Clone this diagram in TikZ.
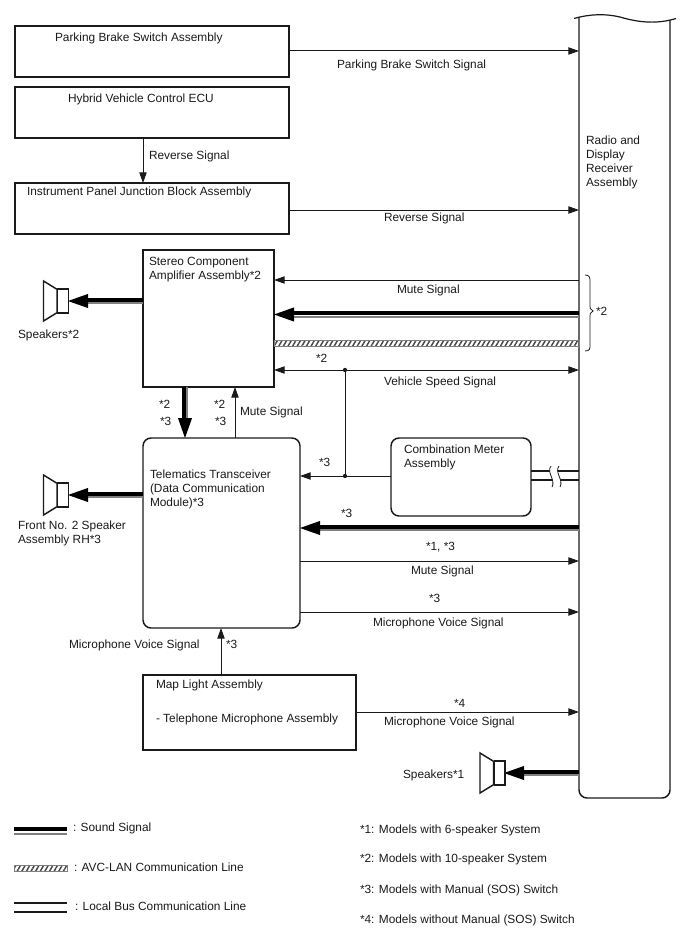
\documentclass[tikz,border=0pt]{standalone}
\usepackage{fontspec}
\setmainfont{Liberation Sans}
\usetikzlibrary{arrows.meta,calc,patterns.meta,decorations.pathreplacing}
\definecolor{ink}{HTML}{1A1A1A}
\definecolor{soundgray}{HTML}{808080}
\tikzset{
  x=0.75pt,y=0.75pt,
  box/.style={draw=ink,line width=1.1pt,rectangle,inner sep=0pt,outer sep=0pt,anchor=center},
  rbox/.style={box,rounded corners=6pt},
  lbl/.style={anchor=west,inner sep=0pt,outer sep=0pt,yshift=-1.1pt,font=\fontsize{8.9pt}{10.5pt}\selectfont,text=ink,align=left},
  sig/.style={draw=ink,line width=0.75pt,-{Triangle[length=8pt,width=5.5pt]}},
  sigb/.style={draw=ink,line width=0.75pt,{Triangle[length=8pt,width=5.5pt]}-{Triangle[length=8pt,width=5.5pt]}},
  blackline/.style={draw=black,line width=3pt},
  grayline/.style={draw=soundgray,line width=1.5pt},
  bus/.style={draw=ink,line width=1.8pt},
  hatch/.style={draw=soundgray,line width=0.6pt,pattern={Lines[angle=60,distance=3pt,line width=1.1pt]},pattern color=ink!80},
  spk/.style={draw=ink,line width=1.1pt,fill=white,line join=miter},
  dotn/.style={circle,fill=ink,inner sep=0pt,minimum size=3.2pt},
}
% from, to, black shift, gray shift
\newcommand{\soundlink}[4]{%
  \draw[grayline,shift={(#4)}] ($(#1)$) -- ($(#2)!15pt!(#1)$);
  \draw[blackline,shift={(#3)}] ($(#1)$) -- ($(#2)!12pt!(#1)$);
  \fill[black] (#2) -- ($(#2)!15pt!(#1)!5.3pt!90:(#2)$) -- ($(#2)!15pt!(#1)!5.3pt!-90:(#2)$) -- cycle;
}
% speaker centred at y, left x
\newcommand{\speaker}[3]{%
  \draw[spk] (#2,#3) ++(0,20) -- ++(13.5,-8.3) -- ++(0,-23.4) -- ++(-13.5,-8.3) -- cycle;
  \node[draw=ink,line width=1.1pt,fill=white,rectangle,inner sep=0pt,minimum width=8pt,minimum height=18pt,anchor=west] (#1) at ($(#2,#3)+(13.5,0)$) {};
}
\begin{document}
\begin{tikzpicture}
\useasboundingbox (0,0) rectangle (688,-949);
% boxes
\node[box,minimum width=205.5pt,minimum height=38.25pt] (brake) at (152,-51.5) {};
\node[box,minimum width=205.5pt,minimum height=38.25pt] (hybrid) at (152,-112.5) {};
\node[box,minimum width=205.5pt,minimum height=38.25pt] (junction) at (152,-208.5) {};
\node[box,minimum width=98.25pt,minimum height=102.75pt] (stereo) at (208.5,-318.5) {};
\node[rbox,minimum width=117.75pt,minimum height=142.5pt] (tele) at (221.5,-533) {};
\node[rbox,minimum width=105pt,minimum height=58.5pt] (combo) at (461,-477) {};
\node[box,minimum width=159.75pt,minimum height=56.25pt] (map) at (249.5,-712.5) {};
% radio receiver
\node[rectangle,inner sep=0pt,outer sep=0pt,minimum width=68.25pt,minimum height=585pt] (radio) at (624.5,-408) {};
\draw[ink,line width=1.1pt,rounded corners=6pt] (579,-17) -- (579,-798) -- (670,-798) -- (670,-20);
\draw[ink,line width=0.9pt] (574,-18.5) .. controls (590,-14) and (605,-13.5) .. (620,-17) .. controls (640,-23) and (658,-24) .. (676,-18.5);
% thin signals
\draw[sig] (brake.east |- 0,-51) -- (radio.west |- 0,-51);
\draw[sig] (hybrid.south) ++(-9,0) -- ($(junction.north)+(-9,0)$);
\draw[sig] (junction.east |- 0,-210) -- (radio.west |- 0,-210);
\draw[sig] (radio.west |- 0,-280) -- (stereo.east |- 0,-280);
\draw[sigb] (stereo.east |- 0,-370) -- (radio.west |- 0,-370);
\coordinate (tap) at (345,-370);
\coordinate (tapb) at (345,-476);
\draw[ink,line width=0.75pt] (tap) -- (tapb);
\draw[sig] (combo.west |- tapb) -- (tele.east |- tapb);
\node[dotn] (d1) at (tap) {};
\node[dotn] (d2) at (tapb) {};
\draw[sig] (tele.north -| 235,0) -- (stereo.south -| 235,0);
\draw[sig] (tele.east |- 0,-561) -- (radio.west |- 0,-561);
\draw[sig] (tele.east |- 0,-612) -- (radio.west |- 0,-612);
\draw[sig] (map.north -| 221,0) -- (tele.south -| 221,0);
\draw[sig] (map.east |- 0,-712) -- (radio.west |- 0,-712);
% AVC-LAN
\path[hatch] (stereo.east |- 0,-340) rectangle (radio.west |- 0,-346);
% sound signals
\soundlink{radio.west |- 0,-314.5}{stereo.east |- 0,-314.5}{0,1.5}{0,-2}
\soundlink{radio.west |- 0,-528}{tele.east |- 0,-528}{0,1.5}{0,-2}
\soundlink{radio.west |- 0,-773}{504,-773}{0,1.5}{0,-2}
\soundlink{stereo.west |- 0,-301}{68,-301}{0,1.5}{0,-2}
\soundlink{tele.west |- 0,-495}{68,-495}{0,1.5}{0,-2}
\soundlink{stereo.south -| 185,0}{tele.north -| 185,0}{-1.5,0}{2,0}
% speakers
\speaker{spkA}{43.5}{-301}
\speaker{spkB}{43.5}{-495}
\speaker{spkC}{480}{-773}
% local bus with break
\draw[bus] (combo.east |- 0,-471) -- (radio.west |- 0,-471);
\draw[bus] (combo.east |- 0,-480) -- (radio.west |- 0,-480);
\fill[white] (551,-466) -- (559,-466) .. controls (554,-472) and (564,-480) .. (560,-487) -- (552,-487) .. controls (556,-480) and (546,-472) .. (551,-466) -- cycle;
\draw[ink,line width=0.6pt] (551,-466) .. controls (546,-472) and (556,-480) .. (552,-487);
\draw[ink,line width=0.6pt] (559,-466) .. controls (554,-472) and (564,-480) .. (560,-487);
% brace
\coordinate (bt) at (585,-275);
\coordinate (bb) at (585,-351);
\draw[ink,line width=0.6pt] (bt) .. controls (590,-275) and (590,-278) .. (590,-282) -- (590,-304) .. controls (590,-308) and (590,-310) .. (593,-311) .. controls (590,-312) and (590,-314) .. (590,-318) -- (590,-344) .. controls (590,-349) and (590,-351) .. (bb);
% legend
\draw[blackline] (14,-829) coordinate (la) -- (67,-829) coordinate (lb);
\draw[grayline] (14,-833.5) -- (67,-833.5);
\path[hatch] (14,-865) coordinate (lc) rectangle (67,-871) coordinate (ld);
\draw[bus] (14,-903) coordinate (le) -- (67,-903);
\draw[bus] (14,-912) coordinate (lf) -- (67,-912);
% labels
\node[lbl] (t1) at (55,-37) {Parking Brake Switch Assembly};
\node[lbl] (t2) at (68,-98) {Hybrid Vehicle Control ECU};
\node[lbl] (t3) at (27,-191) {Instrument Panel Junction Block Assembly};
\node[lbl] (t4) at (337,-64) {Parking Brake Switch Signal};
\node[lbl] (t5) at (149,-155) {Reverse Signal};
\node[lbl] (t6) at (384,-217) {Reverse Signal};
\node[lbl] (t7) at (149,-268) {Stereo Component\\Amplifier Assembly*2};
\node[lbl] (t8) at (18,-334) {Speakers*2};
\node[lbl] (t9) at (397,-289) {Mute Signal};
\node[lbl] (t10) at (316,-357) {*2};
\node[lbl] (t11) at (384,-381) {Vehicle Speed Signal};
\node[lbl] (t12) at (159,-403) {*2};
\node[lbl] (t13) at (160,-420) {*3};
\node[lbl] (t14) at (214,-403) {*2};
\node[lbl] (t15) at (215,-420) {*3};
\node[lbl] (t16) at (240,-411) {Mute Signal};
\node[lbl] (t17) at (319,-461) {*3};
\node[lbl] (t18) at (150,-488) {Telematics Transceiver\\(Data Communication\\Module)*3};
\node[lbl] (t19) at (404,-456) {Combination Meter\\Assembly};
\node[lbl] (t20) at (18,-532) {Front No. 2 Speaker\\Assembly RH*3};
\node[lbl] (t21) at (341,-512) {*3};
\node[lbl] (t22) at (426,-546) {*1, *3};
\node[lbl] (t23) at (411,-570) {Mute Signal};
\node[lbl] (t24) at (429,-597) {*3};
\node[lbl] (t25) at (373,-622) {Microphone Voice Signal};
\node[lbl] (t26) at (69,-644) {Microphone Voice Signal};
\node[lbl] (t27) at (226,-643) {*3};
\node[lbl] (t28) at (156,-684) {Map Light Assembly};
\node[lbl] (t29) at (156,-718) {- Telephone Microphone Assembly};
\node[lbl] (t30) at (454,-702) {*4};
\node[lbl] (t31) at (384,-721) {Microphone Voice Signal};
\node[lbl] (t32) at (403,-774) {Speakers*1};
\node[lbl] (t33) at (73,-827) {: Sound Signal};
\node[lbl] (t34) at (74,-866) {: AVC-LAN Communication Line};
\node[lbl] (t35) at (75,-905) {: Local Bus Communication Line};
\node[lbl] (t36) at (360,-829) {*1: Models with 6-speaker System};
\node[lbl] (t37) at (360,-858) {*2: Models with 10-speaker System};
\node[lbl] (t38) at (360,-889) {*3: Models with Manual (SOS) Switch};
\node[lbl] (t39) at (360,-919) {*4: Models without Manual (SOS) Switch};
\node[lbl] (t40) at (586,-161) {Radio and\\Display\\Receiver\\Assembly};
\node[lbl] (t41) at (596,-310) {*2};
\end{tikzpicture}
\end{document}
